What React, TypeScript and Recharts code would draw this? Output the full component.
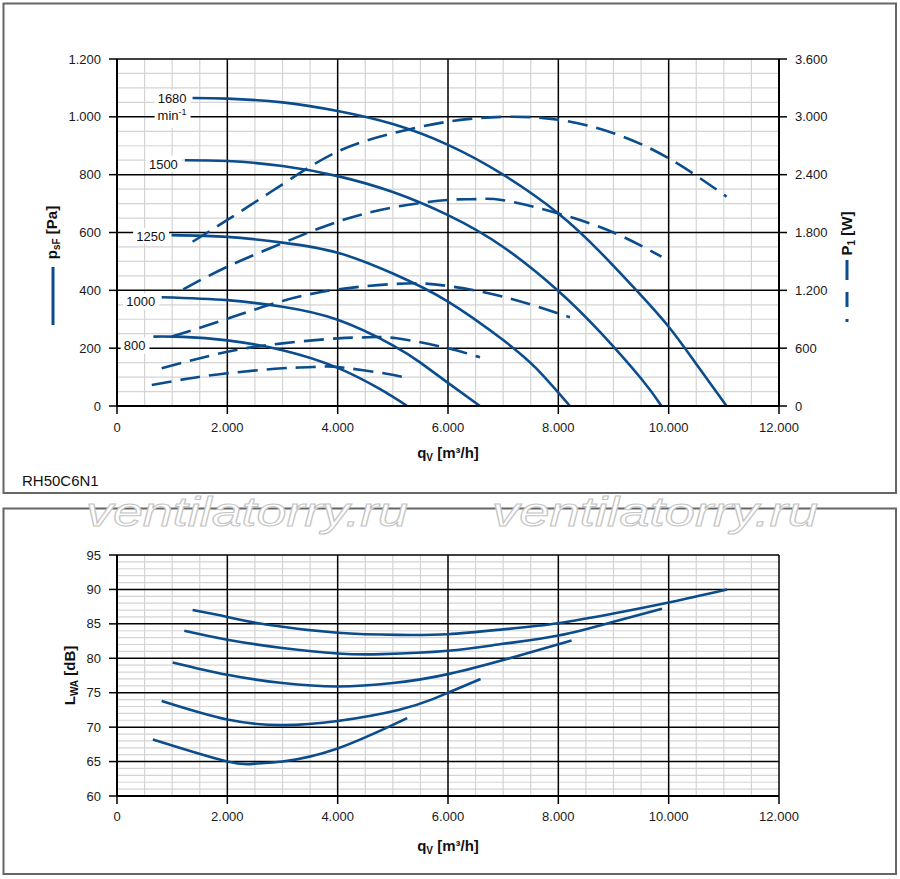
import React from 'react';
import { LineChart, Line, XAxis, YAxis, ReferenceLine, LabelList } from 'recharts';

const BLUE = '#0b4d8c';
const FONT = '"Liberation Sans", Arial, Helvetica, sans-serif';

const speeds = [1680, 1500, 1250, 1000, 800];

const qTicks = [0, 2000, 4000, 6000, 8000, 10000, 12000];
const psfTicks = [0, 200, 400, 600, 800, 1000, 1200];
const p1Ticks = [0, 600, 1200, 1800, 2400, 3000, 3600];
const lwaTicks = [60, 65, 70, 75, 80, 85, 90, 95];

// p_sF [Pa] over q_V [m³/h], one list per speed
const psf1680 = [[1370, 1065], [2000, 1063], [3000, 1050], [4000, 1020], [5000, 975], [6000, 903], [7000, 800], [8000, 666], [8750, 534], [9400, 403], [10000, 274], [10500, 145], [11050, 0]];
const psf1500 = [[1230, 850], [2000, 847], [3000, 830], [4000, 795], [5000, 740], [6000, 660], [7000, 550], [8000, 398], [8750, 257], [9500, 95], [9870, 0]];
const psf1250 = [[990, 591], [2000, 585], [3000, 565], [4000, 530], [5000, 458], [6000, 361], [7000, 228], [7600, 130], [8210, 0]];
const psf1000 = [[810, 376], [2000, 366], [3000, 343], [4000, 298], [5000, 210], [5500, 150], [6000, 80], [6580, 0]];
const psf800 = [[660, 240], [1200, 239], [2000, 227], [3000, 193], [4000, 132], [4770, 58], [5260, 0]];

// P1 [W]
const p1_1680 = [[1370, 1704], [2000, 1930], [3000, 2300], [4000, 2640], [5000, 2830], [6000, 2950], [7000, 3000], [8000, 2970], [9000, 2830], [10000, 2570], [11050, 2172]];
const p1_1500 = [[1200, 1210], [2000, 1445], [3000, 1690], [4000, 1912], [5000, 2060], [6000, 2138], [6500, 2146], [7000, 2135], [8000, 1998], [9000, 1800], [9870, 1549]];
const p1_1250 = [[990, 719], [2000, 905], [3000, 1090], [4000, 1210], [5000, 1265], [5500, 1272], [6000, 1245], [7000, 1134], [8210, 920]];
const p1_1000 = [[810, 391], [2000, 563], [3000, 650], [4000, 702], [4500, 712], [5070, 702], [6000, 598], [6580, 505]];
const p1_800 = [[630, 218], [1300, 285], [2000, 339], [3000, 391], [3700, 408], [4000, 405], [4770, 345], [5280, 290]];

// L_WA [dB]
const lwa1680 = [[1370, 87.0], [2000, 86.0], [2700, 84.9], [4000, 83.7], [5100, 83.4], [6000, 83.5], [7000, 84.2], [8000, 85.1], [9000, 86.5], [10000, 88.1], [11060, 90.0]];
const lwa1500 = [[1220, 84.0], [2000, 82.7], [3000, 81.5], [4000, 80.7], [4800, 80.6], [6000, 81.1], [7000, 82.1], [8000, 83.3], [9000, 85.3], [9880, 87.2]];
const lwa1250 = [[1010, 79.4], [2000, 77.6], [3000, 76.4], [4000, 75.9], [5000, 76.4], [6000, 77.7], [7200, 80.2], [8240, 82.6]];
const lwa1000 = [[810, 73.8], [2000, 71.1], [3000, 70.3], [4000, 70.9], [5100, 72.5], [5700, 74.0], [6000, 75.0], [6590, 77.0]];
const lwa800 = [[650, 68.2], [2000, 65.0], [2500, 64.7], [3000, 65.0], [4000, 66.9], [5260, 71.3]];

const psfSeries = [psf1680, psf1500, psf1250, psf1000, psf800];
const p1Series = [p1_1680, p1_1500, p1_1250, p1_1000, p1_800];
const lwaSeries = [lwa1680, lwa1500, lwa1250, lwa1000, lwa800];

const toRows = (pts: number[][]) => pts.map(([q, v]) => ({ q, v }));

const steps = (from: number, to: number, step: number, skip: number) => {
  const out: number[] = [];
  for (let v = from; v <= to + 1e-9; v += step) {
    if (Math.abs(v / skip - Math.round(v / skip)) > 1e-6) out.push(v);
  }
  return out;
};
const minorQ = steps(0, 12000, 500, 2000);
const minorPsf = steps(0, 1200, 50, 200);
const minorLwa = steps(60, 95, 1, 5);

const fmt = (v: number) =>
  v >= 1000 ? `${Math.floor(v / 1000)}.${String(v % 1000).padStart(3, '0')}` : String(v);

const labelShift: Record<number, { dx: number; dy: number }> = {
  1680: { dx: -6, dy: 0 },
  1500: { dx: -7, dy: 3.6 },
  1250: { dx: -6.5, dy: 1 },
  1000: { dx: -6.5, dy: 4.4 },
  800: { dx: -8, dy: 9 },
};

const speedLabel = (speed: number) => (props: any) => {
  if (props.index !== 0) return null;
  const x = props.x ?? props.viewBox?.x;
  const y = props.y ?? props.viewBox?.y;
  if (x == null || y == null) return null;
  const s = labelShift[speed];
  const text = String(speed);
  const w = text.length * 7.25;
  const right = x + s.dx;
  const cy = y + s.dy;
  return (
    <g>
      <rect x={right - w - 3} y={cy - 8} width={w + 7} height={speed === 1680 ? 38 : 16} fill="#fff" />
      <text x={right} y={cy + 4.7} textAnchor="end" fontSize={13} fill="#111">{text}</text>
      {speed === 1680 && (
        <text x={right} y={cy + 21.5} textAnchor="end" fontSize={13} fill="#111">
          min<tspan fontSize={9} dy={-5}>-1</tspan>
        </text>
      )}
    </g>
  );
};

const psfTitle = (props: any) => {
  const vb = props.viewBox;
  const cx = vb.x - 5;
  const cy = vb.y + vb.height / 2;
  return (
    <g>
      <text transform={`rotate(-90 ${cx} ${cy})`} x={cx} y={cy + 5} textAnchor="middle" fontSize={15} fontWeight="bold" fill="#111">
        p<tspan fontSize={10} dy={3}>sF</tspan><tspan dy={-3}> [Pa]</tspan>
      </text>
      <line x1={cx + 1} x2={cx + 1} y1={cy + 34.5} y2={cy + 92.5} stroke={BLUE} strokeWidth={3} />
    </g>
  );
};

const p1Title = (props: any) => {
  const vb = props.viewBox;
  const cx = vb.x + 68;
  const cy = vb.y + vb.height / 2 + 1;
  return (
    <g>
      <text transform={`rotate(-90 ${cx} ${cy})`} x={cx} y={cy + 5} textAnchor="middle" fontSize={15} fontWeight="bold" fill="#111">
        P<tspan fontSize={10} dy={3}>1</tspan><tspan dy={-3}> [W]</tspan>
      </text>
      <line x1={cx} x2={cx} y1={cy + 26.5} y2={cy + 46.5} stroke={BLUE} strokeWidth={3} />
      <line x1={cx} x2={cx} y1={cy + 58.5} y2={cy + 73.5} stroke={BLUE} strokeWidth={3} />
      <line x1={cx} x2={cx} y1={cy + 85.5} y2={cy + 88.5} stroke={BLUE} strokeWidth={3} />
    </g>
  );
};

const lwaTitle = (props: any) => {
  const vb = props.viewBox;
  const cx = vb.x + 13;
  const cy = vb.y + vb.height / 2;
  return (
    <text transform={`rotate(-90 ${cx} ${cy})`} x={cx} y={cy + 5} textAnchor="middle" fontSize={15} fontWeight="bold" fill="#111">
      L<tspan fontSize={10} dy={3}>WA</tspan><tspan dy={-3}> [dB]</tspan>
    </text>
  );
};

const qTitle = (dy: number) => (props: any) => {
  const vb = props.viewBox;
  return (
    <text x={vb.x + vb.width / 2} y={vb.y + dy} textAnchor="middle" fontSize={15} fontWeight="bold" fill="#111">
      q<tspan fontSize={10} dy={3}>V</tspan><tspan dy={-3}> [m³/h]</tspan>
    </text>
  );
};

const axisLine = { stroke: '#000', strokeWidth: 2 };
const tickLine = { stroke: '#000', strokeWidth: 1.5 };
const tick = { fontSize: 13, fill: '#1a1a1a' };
const MINOR = '#d4d4d4';

export default function App() {
  return (
    <div style={{ position: 'absolute', left: 0, top: 0, width: 900, height: 879, background: '#fff', fontFamily: FONT }}>
      <svg width={900} height={879} style={{ position: 'absolute', left: 0, top: 0 }}>
        <rect x={3.5} y={3.5} width={892.5} height={489.5} fill="none" stroke="#666" strokeWidth={2} />
        <rect x={3.5} y={508.5} width={892.5} height={365.5} fill="none" stroke="#666" strokeWidth={2} />
      </svg>

      <div style={{ position: 'absolute', left: 0, top: 0 }}>
        <LineChart width={900} height={493} margin={{ top: 59, right: 61, bottom: 47, left: 57 }}>
          <XAxis type="number" dataKey="q" domain={[0, 12000]} ticks={qTicks} tickFormatter={fmt} interval={0}
            height={40} tickSize={8} tickMargin={9} axisLine={axisLine} tickLine={tickLine} tick={tick} label={qTitle(52)} />
          <YAxis yAxisId="p" domain={[0, 1200]} ticks={psfTicks} tickFormatter={fmt} interval={0} width={60}
            tickSize={8} tickMargin={8} axisLine={axisLine} tickLine={tickLine} tick={tick} label={psfTitle} />
          <YAxis yAxisId="w" orientation="right" domain={[0, 3600]} ticks={p1Ticks} tickFormatter={fmt} interval={0} width={60}
            tickSize={8} tickMargin={8} axisLine={axisLine} tickLine={tickLine} tick={tick} label={p1Title} />
          {minorQ.map((v) => <ReferenceLine key={`mq${v}`} x={v} yAxisId="p" stroke={MINOR} strokeWidth={1.2} zIndex={-60} />)}
          {minorPsf.map((v) => <ReferenceLine key={`mp${v}`} y={v} yAxisId="p" stroke={MINOR} strokeWidth={1.2} zIndex={-60} />)}
          {qTicks.map((v) => <ReferenceLine key={`gq${v}`} x={v} yAxisId="p" stroke="#000" strokeWidth={1.5} zIndex={-50} />)}
          {psfTicks.map((v) => <ReferenceLine key={`gp${v}`} y={v} yAxisId="p" stroke="#000" strokeWidth={1.5} zIndex={-50} />)}
          {p1Series.map((pts, i) => (
            <Line key={`w${speeds[i]}`} data={toRows(pts)} dataKey="v" yAxisId="w" type="natural" stroke={BLUE}
              strokeWidth={2.6} strokeDasharray="20 9" dot={false} activeDot={false} isAnimationActive={false} />
          ))}
          {psfSeries.map((pts, i) => (
            <Line key={`p${speeds[i]}`} data={toRows(pts)} dataKey="v" yAxisId="p" type="natural" stroke={BLUE}
              strokeWidth={2.6} dot={false} activeDot={false} isAnimationActive={false}>
              <LabelList dataKey="v" content={speedLabel(speeds[i])} />
            </Line>
          ))}
        </LineChart>
      </div>

      <div style={{ position: 'absolute', left: 0, top: 508 }}>
        <LineChart width={900} height={366} margin={{ top: 47, right: 121, bottom: 38, left: 57 }}>
          <XAxis type="number" dataKey="q" domain={[0, 12000]} ticks={qTicks} tickFormatter={fmt} interval={0}
            height={40} tickSize={8} tickMargin={8} axisLine={axisLine} tickLine={tickLine} tick={tick} label={qTitle(55)} />
          <YAxis yAxisId="l" domain={[60, 95]} ticks={lwaTicks} interval={0} width={60}
            tickSize={8} tickMargin={8} axisLine={axisLine} tickLine={tickLine} tick={tick} label={lwaTitle} />
          {minorQ.map((v) => <ReferenceLine key={`mq${v}`} x={v} yAxisId="l" stroke={MINOR} strokeWidth={1.2} zIndex={-60} />)}
          {minorLwa.map((v) => <ReferenceLine key={`ml${v}`} y={v} yAxisId="l" stroke={MINOR} strokeWidth={1.2} zIndex={-60} />)}
          {qTicks.map((v) => <ReferenceLine key={`gq${v}`} x={v} yAxisId="l" stroke="#000" strokeWidth={1.5} zIndex={-50} />)}
          {lwaTicks.map((v) => <ReferenceLine key={`gl${v}`} y={v} yAxisId="l" stroke="#000" strokeWidth={1.5} zIndex={-50} />)}
          {lwaSeries.map((pts, i) => (
            <Line key={`l${speeds[i]}`} data={toRows(pts)} dataKey="v" yAxisId="l" type="natural" stroke={BLUE}
              strokeWidth={2.6} dot={false} activeDot={false} isAnimationActive={false} />
          ))}
        </LineChart>
      </div>

      <svg width={900} height={879} style={{ position: 'absolute', left: 0, top: 0, pointerEvents: 'none' }}>
        <text x={22} y={485.5} fontSize={15} fill="#111">RH50C6N1</text>
        <text x={86} y={526} fontSize={40} fontStyle="italic" fill="#fff" stroke="#c4c4c4" strokeWidth={1}
          textLength={322} lengthAdjust="spacingAndGlyphs">ventilatorry.ru</text>
        <text x={492} y={526} fontSize={40} fontStyle="italic" fill="#fff" stroke="#c4c4c4" strokeWidth={1}
          textLength={326} lengthAdjust="spacingAndGlyphs">ventilatorry.ru</text>
      </svg>
    </div>
  );
}
